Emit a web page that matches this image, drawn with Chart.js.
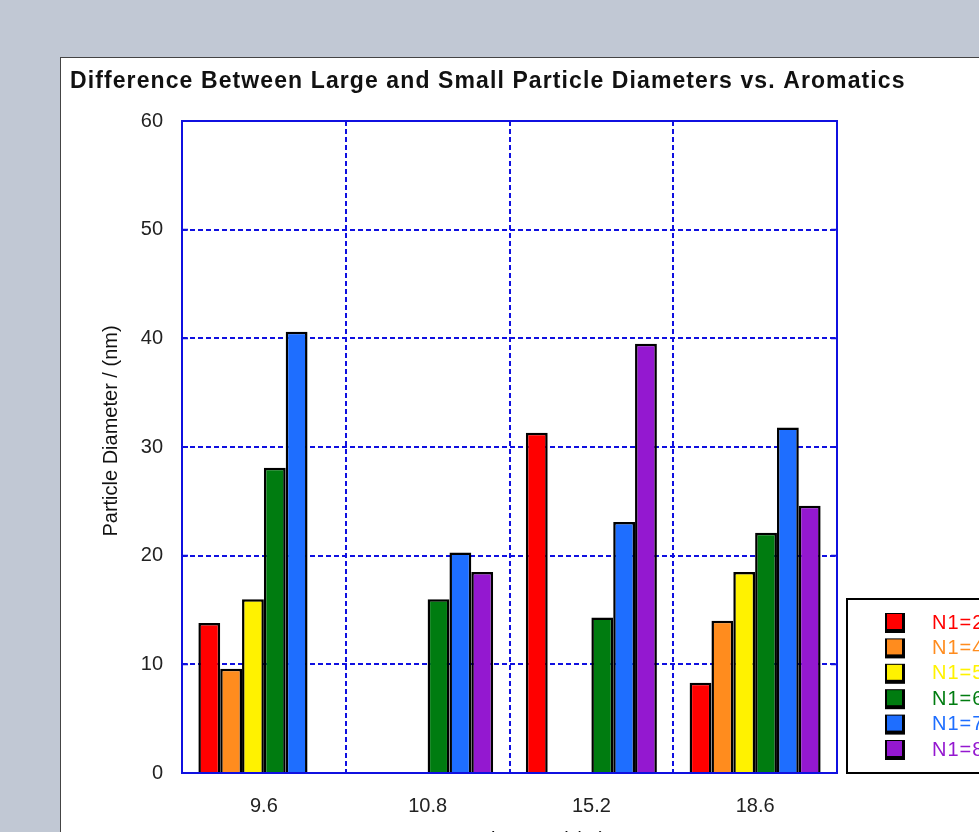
<!DOCTYPE html>
<html>
<head>
<meta charset="utf-8">
<script src="https://cdn.jsdelivr.net/npm/chart.js@4.4.0/dist/chart.umd.min.js"></script>
<style>
    html, body { margin: 0; padding: 0; overflow: hidden; }
    body { width: 979px; height: 832px; background: #c1c8d4; position: relative; }
    #panel { position: absolute; left: 60px; top: 57px; width: 1000px; height: 900px;
             background: #fff; border: 1px solid #444; }
    #chart { position: absolute; left: 0; top: 0; }
</style>
</head>
<body>
<div id="panel"></div>
<canvas id="chart" width="979" height="832"></canvas>
<script>
// Aromatics (%) kategorileri
const categories = ['9.6', '10.8', '15.2', '18.6'];
const seriesNames = ['N1=2', 'N1=4', 'N1=5', 'N1=6', 'N1=7', 'N1=8'];
const seriesColors = ['#ff0000', '#ff8c1e', '#fff200', '#007c10', '#1e6eff', '#9418d0'];

// her seri için kategori sırasıyla değerler (null = çubuk yok)
const n1_2 = [13.8, null, 31.3, 8.3];
const n1_4 = [9.6, null, null, 14.0];
const n1_5 = [16.0, null, null, 18.5];
const n1_6 = [28.1, 16.0, 14.3, 22.1];
const n1_7 = [40.6, 20.3, 23.1, 31.8];
const n1_8 = [null, 18.5, 39.5, 24.6];

const yTicks = [0, 10, 20, 30, 40, 50, 60];

const seriesValues = [n1_2, n1_4, n1_5, n1_6, n1_7, n1_8];
const axisBlue = '#1010e0';
const FONT = '"Liberation Sans", Arial, sans-serif';

// çerçeve, iç tikler, başlıklar ve lejant
const decorPlugin = {
    id: 'decor',
    afterDraw(chart) {
        const ctx = chart.ctx;
        const a = chart.chartArea;
        const y = chart.scales.y;
        ctx.save();

        // mavi çerçeve
        ctx.strokeStyle = axisBlue;
        ctx.lineWidth = 2;
        ctx.setLineDash([]);
        ctx.strokeRect(a.left, a.top, a.right - a.left, a.bottom - a.top);

        // içe dönük tikler
        yTicks.forEach(v => {
            const py = y.getPixelForValue(v);
            ctx.beginPath();
            ctx.moveTo(a.left, py); ctx.lineTo(a.left + 6, py);
            ctx.moveTo(a.right, py); ctx.lineTo(a.right - 6, py);
            ctx.stroke();
        });

        // başlık
        ctx.fillStyle = '#111';
        ctx.font = 'bold 23px ' + FONT;
        ctx.letterSpacing = '1.1px';
        ctx.textAlign = 'left';
        ctx.textBaseline = 'alphabetic';
        ctx.fillText('Difference Between Large and Small Particle Diameters vs. Aromatics', 70, 88);
        ctx.letterSpacing = '0px';

        // eksen başlıkları
        ctx.font = '20px ' + FONT;
        ctx.textAlign = 'center';
        ctx.fillText('Aromatics Level (%)', 516, 846);
        ctx.save();
        ctx.translate(117, 431);
        ctx.rotate(-Math.PI / 2);
        ctx.fillText('Particle Diameter / (nm)', 0, 0);
        ctx.restore();

        // lejant kutusu
        ctx.fillStyle = '#fff';
        ctx.fillRect(847, 599, 200, 174);
        ctx.strokeStyle = '#000';
        ctx.lineWidth = 2;
        ctx.strokeRect(847, 599, 200, 174);

        ctx.font = '20px ' + FONT;
        ctx.letterSpacing = '1px';
        ctx.textAlign = 'left';
        ctx.textBaseline = 'middle';
        chart.data.datasets.forEach((ds, i) => {
            const cy = 622 + i * 25.4;
            ctx.fillStyle = '#000';
            ctx.fillRect(885, cy - 9, 20, 20);
            ctx.fillStyle = ds.backgroundColor;
            ctx.fillRect(887, cy - 8, 15, 15);
            ctx.fillText(ds.label, 932, cy + 1);
        });
        ctx.restore();
    }
};

const datasets = seriesNames.map((name, i) => ({
    label: name,
    data: seriesValues[i],
    backgroundColor: seriesColors[i],
    borderColor: '#000',
    borderWidth: 2.5,
    categoryPercentage: 0.8,
    barPercentage: 1.0
}));

new Chart(document.getElementById('chart'), {
    type: 'bar',
    data: { labels: categories, datasets: datasets },
    options: {
        responsive: false,
        animation: false,
        devicePixelRatio: 1,
        layout: { padding: { top: 121, right: 142, left: 0, bottom: 0 } },
        plugins: {
            legend: { display: false },
            title: { display: false },
            tooltip: { enabled: false }
        },
        scales: {
            x: {
                afterFit: s => { s.height = 59; },
                border: { display: false, dash: [5, 3] },
                grid: {
                    offset: true,
                    drawTicks: false,
                    color: axisBlue,
                    lineWidth: 2
                },
                ticks: {
                    padding: 21,
                    color: '#222',
                    font: { family: FONT, size: 20 }
                }
            },
            y: {
                min: 0,
                max: 60,
                afterFit: s => { s.width = 182; },
                afterBuildTicks: s => { s.ticks = yTicks.map(v => ({ value: v })); },
                border: { display: false, dash: [5, 3] },
                grid: {
                    drawTicks: false,
                    color: axisBlue,
                    lineWidth: 2
                },
                ticks: {
                    padding: 19,
                    color: '#222',
                    font: { family: FONT, size: 20 }
                }
            }
        }
    },
    plugins: [decorPlugin]
});
</script>
</body>
</html>
